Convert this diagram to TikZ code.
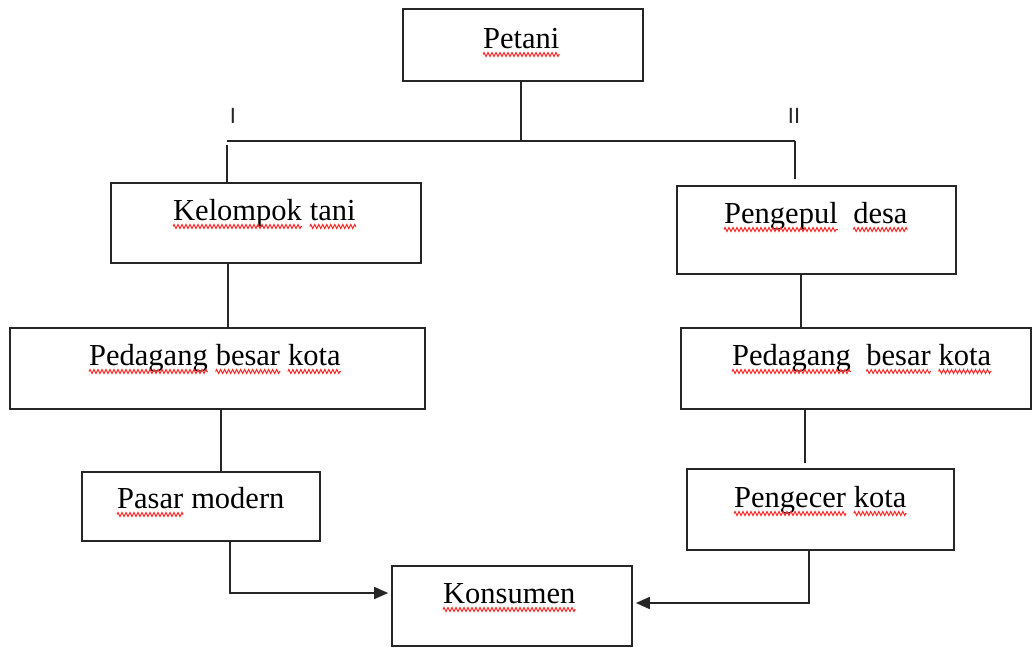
\documentclass[tikz,border=0pt]{standalone}
\usepackage{fontspec}
\setmainfont{Liberation Serif}
\newfontfamily\labfont{Liberation Sans}
\usetikzlibrary{arrows.meta,decorations.pathmorphing}
\newcommand\fs{\fontsize{30.5}{36}\selectfont}
\begin{document}
\begin{tikzpicture}[x=1pt,y=-1pt,
 box/.style={draw=black!85, line width=1.7pt, rectangle, inner sep=0pt},
 word/.style={anchor=base west, inner sep=0pt, font=\fs},
 roman/.style={anchor=base, inner sep=0pt, font=\labfont\fontsize{22}{26}\selectfont, text=black!85},
 link/.style={draw=black!85, line width=1.7pt},
 arr/.style={link, -{Triangle[length=14pt,width=12pt]}},
 wv/.style={draw=red!85, line width=1pt, decorate, decoration={zigzag, segment length=4pt, amplitude=2pt}},
 sp/.style={xshift=7.6pt}, dsp/.style={xshift=15.2pt}]
\useasboundingbox (0,0) rectangle (1033,648);

% boxes
\node[box, minimum width=240pt, minimum height=72pt] (petani) at (523,45) {};
\node[box, minimum width=310pt, minimum height=80pt] (kel) at (266,223) {};
\node[box, minimum width=279pt, minimum height=88pt] (peng) at (816.5,230) {};
\node[box, minimum width=415pt, minimum height=81pt] (pbl) at (217.5,368.5) {};
\node[box, minimum width=350pt, minimum height=81pt] (pbr) at (856,368.5) {};
\node[box, minimum width=238pt, minimum height=69pt] (pasar) at (201,506.5) {};
\node[box, minimum width=267pt, minimum height=81pt] (ecer) at (820.5,509.5) {};
\node[box, minimum width=240pt, minimum height=80pt] (kons) at (512,606) {};

% texts, word by word
\node[word] (w1) at (483,48) {Petani};
\node[word] (w2) at (173,220) {Kelompok};
\node[word] (w3) at ([sp]w2.base east) {tani};
\node[word] (w4) at (724,223) {Pengepul};
\node[word] (w5) at ([dsp]w4.base east) {desa};
\node[word] (w6) at (89,365) {Pedagang};
\node[word] (w7) at ([sp]w6.base east) {besar};
\node[word] (w8) at ([sp]w7.base east) {kota};
\node[word] (w9) at (732,365) {Pedagang};
\node[word] (w10) at ([dsp]w9.base east) {besar};
\node[word] (w11) at ([sp]w10.base east) {kota};
\node[word] (w12) at (117,508) {Pasar};
\node[word] (w13) at ([sp]w12.base east) {modern};
\node[word] (w14) at (734,507) {Pengecer};
\node[word] (w15) at ([sp]w14.base east) {kota};
\node[word] (w16) at (443,603) {Konsumen};

% spell-check underlines
\foreach \w in {w1,w2,w3,w4,w5,w6,w7,w8,w9,w10,w11,w12,w14,w15,w16}
  \path[wv] ([yshift=-6.5pt]\w.base west) -- ([yshift=-6.5pt]\w.base east);

% route labels
\node[roman] (r1) at (233,123) {I};
\node[roman] (r2) at (794,123) {II};

% connectors
\coordinate (busL) at (227,141);
\coordinate (busR) at (795,141);
\draw[link] (520.7,0 |- petani.south) -- (520.7,0 |- busL);
\draw[link] (busL) -- (busR);
\draw[link] (227,145) -- (227,0 |- kel.north);
\draw[link] (busR) -- ([yshift=6pt]busR |- peng.north);
\draw[link] (228,0 |- kel.south) -- (228,0 |- pbl.north);
\draw[link] (221,0 |- pbl.south) -- (221,0 |- pasar.north);
\draw[link] (801,0 |- peng.south) -- (801,0 |- pbr.north);
\draw[link] (805,0 |- pbr.south) -- ([yshift=5pt]805,0 |- ecer.north);
\draw[arr, shorten >=3pt] (230,0 |- pasar.south) |- ([yshift=13pt]kons.west);
\draw[arr, shorten >=3pt] (809,0 |- ecer.south) |- ([yshift=3pt]kons.east);
\end{tikzpicture}
\end{document}
